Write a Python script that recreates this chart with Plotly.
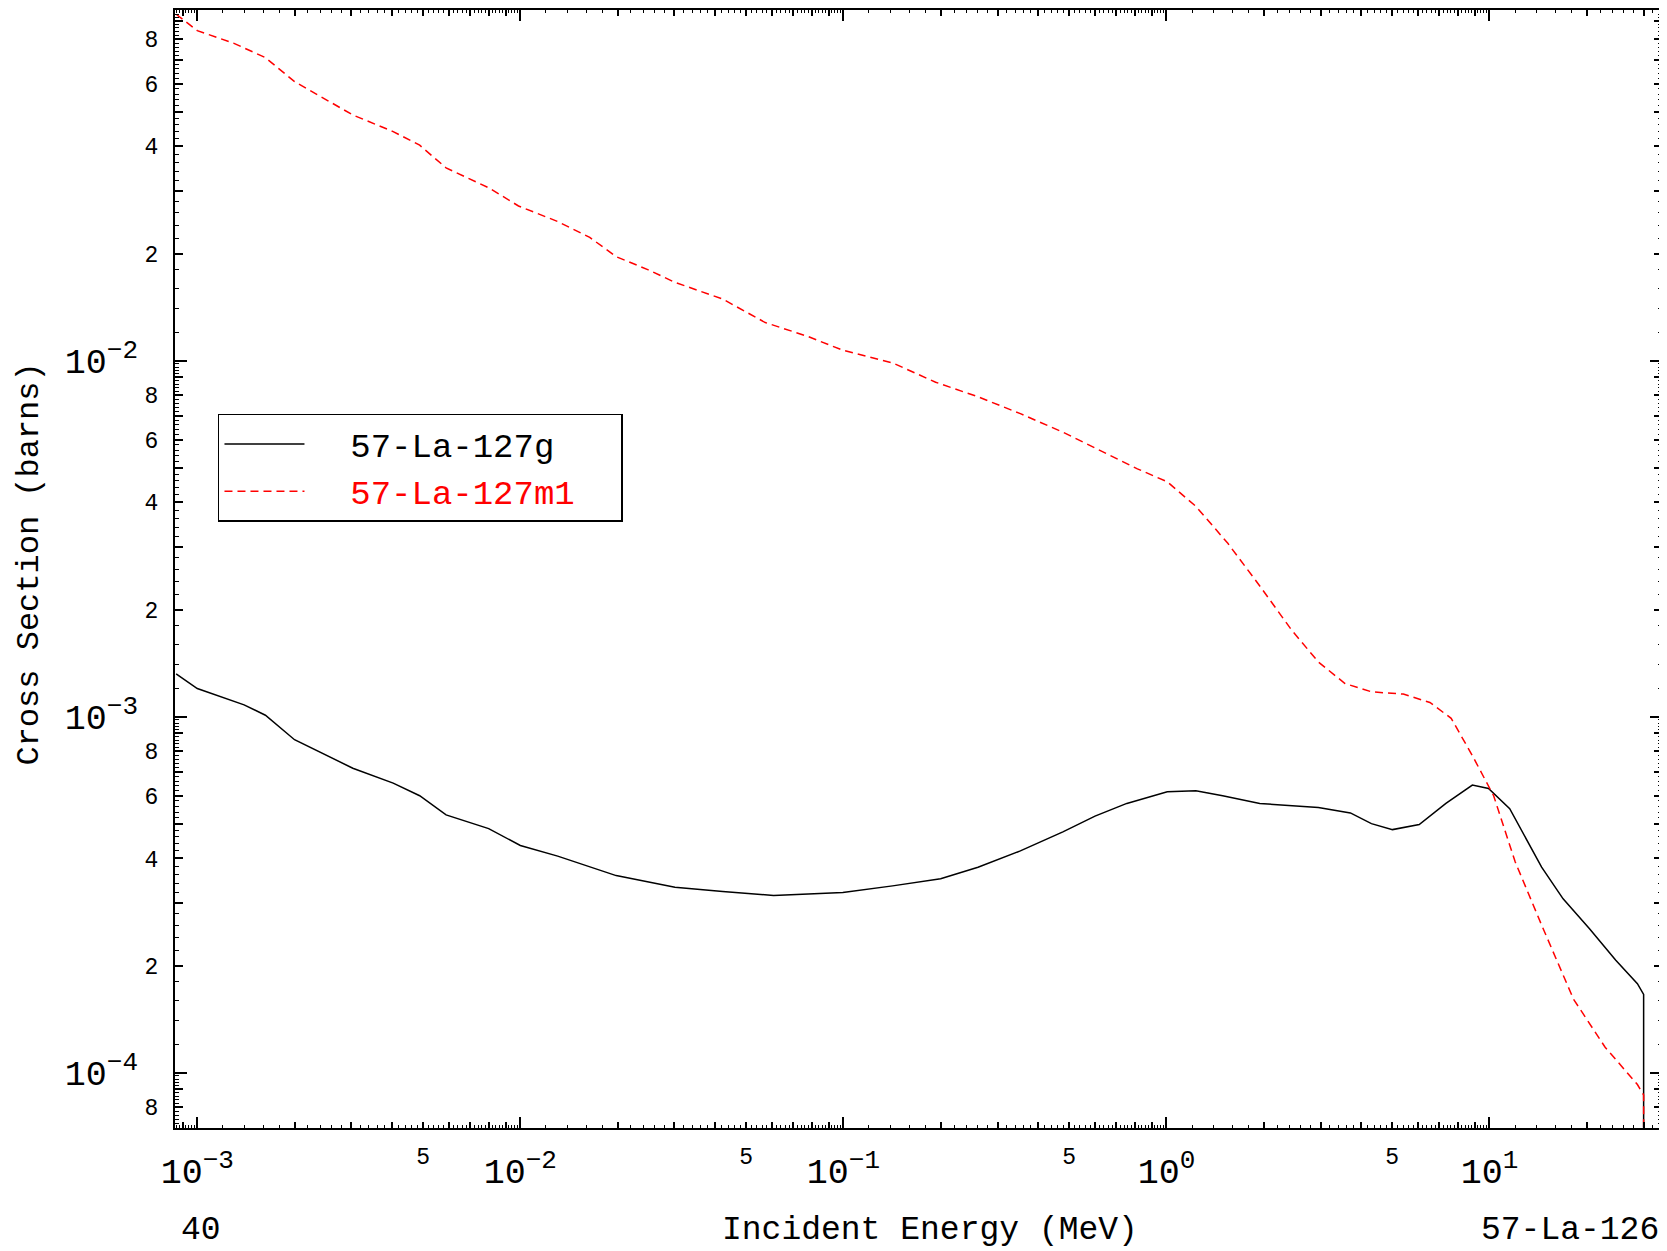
import numpy as np
import plotly.graph_objects as go

# ---- data (energies in MeV, cross sections in barns) ----
e_g = [8.6e-4, 1.0e-3, 1.396e-3, 1.625e-3, 2.0e-3, 2.37e-3, 3.03e-3, 4.04e-3, 4.88e-3, 5.89e-3,
       7.98e-3, 1.0e-2, 1.305e-2, 1.98e-2, 3.01e-2, 4.23e-2, 6.08e-2, 9.96e-2, 0.142, 0.2,
       0.261, 0.353, 0.478, 0.601, 0.754, 1.006, 1.233, 1.493, 1.945, 2.953,
       3.71, 4.31, 5.01, 6.06, 7.33, 8.85, 9.93, 11.55, 14.5, 16.9,
       20.4, 24.6, 28.7, 30.0, 30.0]
xs_g = [1.32e-3, 1.20e-3, 1.08e-3, 1.01e-3, 8.62e-4, 8.0e-4, 7.17e-4, 6.51e-4, 6.0e-4, 5.3e-4,
        4.85e-4, 4.35e-4, 4.06e-4, 3.58e-4, 3.32e-4, 3.23e-4, 3.15e-4, 3.21e-4, 3.35e-4, 3.51e-4,
        3.78e-4, 4.20e-4, 4.75e-4, 5.26e-4, 5.71e-4, 6.16e-4, 6.20e-4, 6.0e-4, 5.71e-4, 5.56e-4,
        5.37e-4, 5.01e-4, 4.82e-4, 4.98e-4, 5.71e-4, 6.43e-4, 6.29e-4, 5.52e-4, 3.78e-4, 3.08e-4,
        2.54e-4, 2.07e-4, 1.78e-4, 1.66e-4, 1.0e-9]

e_m1 = [8.6e-4, 1.0e-3, 1.294e-3, 1.625e-3, 2.0e-3, 2.37e-3, 3.03e-3, 4.04e-3, 4.88e-3, 5.89e-3,
        7.98e-3, 9.87e-3, 1.305e-2, 1.64e-2, 1.98e-2, 2.49e-2, 3.01e-2, 4.23e-2, 5.73e-2, 7.76e-2,
        9.96e-2, 0.142, 0.193, 0.261, 0.353, 0.478, 0.648, 0.813, 1.006, 1.233,
        1.549, 1.945, 2.443, 2.953, 3.57, 4.31, 5.41, 6.54, 7.61, 8.85,
        10.3, 12.0, 14.5, 18.2, 22.8, 28.7, 30.0, 30.0]
xs_m1 = [0.094, 0.0845, 0.078, 0.071, 0.0608, 0.0556, 0.049, 0.044, 0.0403, 0.0348,
         0.0306, 0.0272, 0.0246, 0.0222, 0.0196, 0.018, 0.0166, 0.0149, 0.0128, 0.0117,
         0.0107, 0.00986, 0.0087, 0.00792, 0.0071, 0.0063, 0.0055, 0.00497, 0.00457, 0.0039,
         0.00307, 0.00233, 0.00175, 0.001425, 0.00124, 0.001175, 0.001158, 0.001097, 0.00099, 0.000778,
         0.000600, 0.000392, 0.000260, 0.000161, 0.000118, 0.0000927, 0.0000866, 1.0e-9]

SUP = "<sup><span style='font-size:26px'>{}</span></sup>"
x_decades = [1e-3, 1e-2, 1e-1, 1e0, 1e1]
x_decade_labels = ["10" + SUP.format(s) for s in ["−3", "−2", "−1", "0", "1"]]
y_decades = [1e-4, 1e-3, 1e-2]
y_decade_labels = ["10" + SUP.format(s) for s in ["−4", "−3", "−2"]]

FONT = "Liberation Mono"
X_RANGE = [-3.069, 1.534]
Y_RANGE = [-4.155, -1.015]

def in_range(v, rng):
    return rng[0] <= np.log10(v) <= rng[1]

# labelled / medium (integer mantissa) / minor (0.2 step) tick positions
x_lab, x_lab_txt, x_mid, x_min = [], [], [], []
for d in range(-4, 2):
    for m in range(2, 10):
        v = m * 10.0 ** d
        if in_range(v, X_RANGE):
            if m == 5:
                x_lab.append(v)
                x_lab_txt.append("5")
            else:
                x_mid.append(v)
    for k in range(1, 46):
        m = 1 + 0.2 * k
        if abs(m - round(m)) > 1e-6:
            v = m * 10.0 ** d
            if in_range(v, X_RANGE):
                x_min.append(v)

y_lab, y_lab_txt, y_mid, y_min = [], [], [], []
for d in range(-5, -1):
    for m in range(2, 10):
        v = m * 10.0 ** d
        if in_range(v, Y_RANGE):
            if m % 2 == 0:
                y_lab.append(v)
                y_lab_txt.append(str(m))
            else:
                y_mid.append(v)
    for k in range(1, 46):
        m = 1 + 0.2 * k
        if abs(m - round(m)) > 1e-6:
            v = m * 10.0 ** d
            if in_range(v, Y_RANGE):
                y_min.append(v)

NB = "\u00a0"
fig = go.Figure()
fig.add_trace(go.Scatter(x=e_g, y=xs_g, mode="lines", name=NB * 2 + "57-La-127g",
                         line=dict(color="black", width=1.5), xaxis="x", yaxis="y"))
fig.add_trace(go.Scatter(x=e_m1, y=xs_m1, mode="lines",
                         name=NB * 2 + "<span style='color:red'>57-La-127m1</span>" + NB * 2,
                         line=dict(color="red", width=1.5, dash="8px,5px"), xaxis="x2", yaxis="y2"))

common = dict(type="log", showgrid=False, zeroline=False, showline=True, linecolor="black",
              linewidth=2, mirror="ticks", ticks="inside", tickcolor="black", tickwidth=1.5)

fig.update_layout(
    width=1659, height=1243,
    margin=dict(l=167, r=5, t=0, b=123),
    paper_bgcolor="white", plot_bgcolor="white",
    font=dict(family=FONT, color="black"),
    xaxis=dict(**common, range=X_RANGE, tickvals=x_decades, ticktext=x_decade_labels,
               ticklen=11, tickfont=dict(size=35, family=FONT), ticklabelstandoff=11,
               minor=dict(ticks="inside", ticklen=3, tickcolor="black", tickwidth=1, tickvals=x_min)),
    xaxis2=dict(**common, range=X_RANGE, overlaying="x", anchor="y2", side="bottom",
                tickvals=x_lab, ticktext=x_lab_txt, ticklen=6,
                tickfont=dict(size=23, family=FONT), ticklabelstandoff=6,
                minor=dict(ticks="inside", ticklen=6, tickcolor="black", tickwidth=1.5, tickvals=x_mid)),
    yaxis=dict(**common, range=Y_RANGE, tickvals=y_decades, ticktext=y_decade_labels,
               ticklen=12, tickfont=dict(size=35, family=FONT), ticklabelstandoff=28,
               minor=dict(ticks="inside", ticklen=4, tickcolor="black", tickwidth=1, tickvals=y_min)),
    yaxis2=dict(**common, range=Y_RANGE, overlaying="y", anchor="x2", side="left",
                tickvals=y_lab, ticktext=y_lab_txt, ticklen=8,
                tickfont=dict(size=23, family=FONT), ticklabelstandoff=10,
                minor=dict(ticks="inside", ticklen=8, tickcolor="black", tickwidth=1.5, tickvals=y_mid)),
    showlegend=True,
    legend=dict(x=0.0289, y=0.6387, xanchor="left", yanchor="top",
                bordercolor="black", borderwidth=1.5, bgcolor="white",
                font=dict(size=34, family=FONT, color="black"),
                itemwidth=80, tracegroupgap=0),
    annotations=[
        dict(text="Incident Energy (MeV)", xref="paper", yref="paper", x=0.508, y=-0.092,
             xanchor="center", yanchor="middle", showarrow=False, font=dict(size=33, family=FONT)),
        dict(text="40", xref="paper", yref="paper", x=0.0027, y=-0.092,
             xanchor="left", yanchor="middle", showarrow=False, font=dict(size=33, family=FONT)),
        dict(text="57-La-126", xref="paper", yref="paper", x=0.9993, y=-0.092,
             xanchor="right", yanchor="middle", showarrow=False, font=dict(size=33, family=FONT)),
        dict(text="Cross Section (barns)", xref="paper", yref="paper", x=-0.0975, y=0.504,
             xanchor="center", yanchor="middle", textangle=-90, showarrow=False,
             font=dict(size=32, family=FONT)),
    ],
)

fig.write_html("out.html")
